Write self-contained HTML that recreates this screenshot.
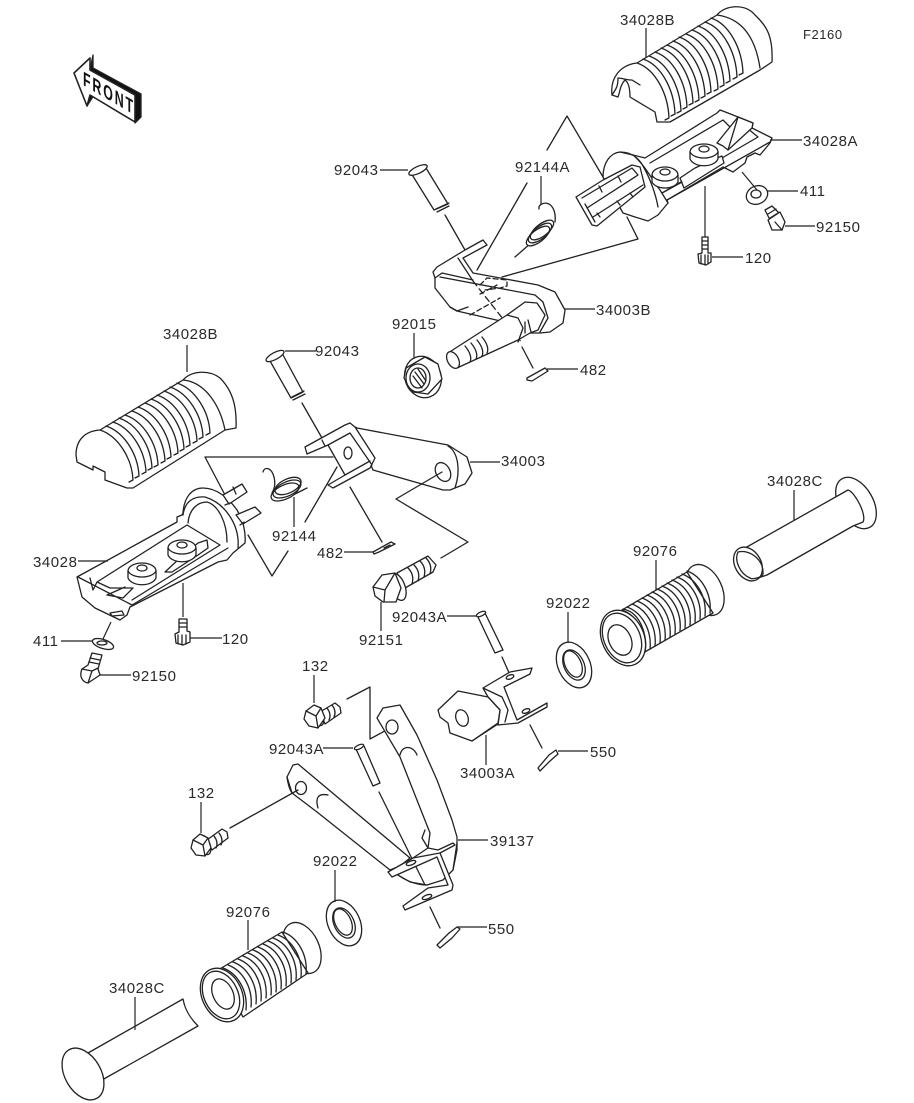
<!DOCTYPE html>
<html><head><meta charset="utf-8"><style>
html,body{margin:0;padding:0;background:#fff}
svg{display:block}
text{font-family:"Liberation Sans",sans-serif;font-size:15px;letter-spacing:.55px;fill:#2a2a2a;stroke:none}
.l{fill:none;stroke:#222;stroke-width:1.2}
.s *{stroke:#222;stroke-width:1.3;stroke-linejoin:round;stroke-linecap:round}
.w{fill:#fff}.n{fill:none}
</style></head><body>
<svg width="914" height="1103" viewBox="0 0 914 1103" xmlns="http://www.w3.org/2000/svg">
<defs>
<path id="r1" class="n" d="M0,0C18,6 31,30 32,55l-4,2"/>
<path id="r2" class="n" d="M0,0C18,6 32,28 33,50l-4,2"/>
<path id="r3" class="n" d="M0,0C14,5 25,22 23,42"/>
</defs>
<g class="s">
<!-- FRONT arrow -->
<path d="M93,55L93,68L141,94L141,117L135,123L135,95L90,70Z" style="fill:#111"/>
<path d="M87,106L94,95L90,94Z" style="fill:#111"/>
<path class="w" style="stroke-width:1.6" d="M74,73L90,58L90,70L135,95L135,122L90,95L87,106Z"/>

<!-- top grip 34028B -->
<path class="w" d="M612,95C610,78 620,65 637,63L717,15C725,5 745,3 755,15C768,27 773,38 772,62L760,70L670,122L657,122L655,112L630,97C630,88 628,82 625,80C620,85 620,92 618,97L612,95Z"/>
<path class="n" d="M618,78C622,78 626,80 632,80L640,85M612,95C615,90 618,88 618,78"/>
<use href="#r1" x="637" y="63"/><use href="#r1" x="643" y="59"/><use href="#r1" x="649" y="56"/><use href="#r1" x="655" y="52"/><use href="#r1" x="661" y="48"/><use href="#r1" x="667" y="45"/><use href="#r1" x="673" y="41"/><use href="#r1" x="679" y="37"/><use href="#r1" x="686" y="34"/><use href="#r1" x="692" y="30"/><use href="#r1" x="698" y="26"/><use href="#r1" x="705" y="22"/><use href="#r1" x="711" y="18"/>
<path class="n" d="M717,15C740,18 755,35 760,68"/>

<!-- right footrest 34028A -->
<path class="w" d="M603,177C603,163 610,153 620,152L633,155L645,158L717,113L720,110L728,113L738,117L753,123L752,128L772,138L770,143L760,155L755,153L747,157L745,163L733,172L723,167L667,200L668,203L658,215L648,221L635,217L623,213Z"/>
<path class="n" d="M620,152C630,152 638,157 643,166C650,178 656,195 658,207M633,155C645,165 652,180 660,190L668,203M650,163L723,120L730,127M667,200L770,142M662,193L758,137L747,128"/>
<path class="w" d="M717,143L738,117L753,123L752,128L728,150L723,146Z"/><path class="n" d="M728,150L738,117"/>
<path class="w" d="M680,178L695,168L712,160L722,156L724,163L684,188Z"/>
<path class="n" d="M662,193L682,182"/>
<ellipse class="w" cx="704" cy="152" rx="14" ry="8"/><path class="w" d="M690,152V159C694,168 714,168 718,159V152C714,160 694,160 690,152Z"/><ellipse class="n" cx="704" cy="149" rx="5" ry="3"/>
<ellipse class="w" cx="665" cy="175" rx="13" ry="8"/><path class="w" d="M652,175V182C656,190 674,190 678,182V175C674,183 656,183 652,175Z"/><ellipse class="n" cx="665" cy="172" rx="5" ry="3"/>
<path class="w" d="M576,197L603,180L632,165L640,167L645,187L597,226L592,225Z"/>
<path class="n" d="M582,198L632,168L638,175L587,208M585,204L595,222M593,217L643,185M599,186L602,192M618,176L621,182M597,213L600,217M617,201L620,205M630,193L633,197"/>

<!-- bracket lines top -->
<path class="n" d="M547,150L567,116L603,177M527,183L477,270M627,217L638,239L502,277"/>
<path class="n" d="M445,215L465,250"/>

<!-- spring 92144A -->
<path class="n" d="M539,209C538,204 545,202 549,204C554,207 556,214 555,222M515,257L531,243"/>
<ellipse class="w" cx="538" cy="236" rx="14" ry="6" transform="rotate(-38 538 236)"/>
<ellipse class="n" cx="540" cy="233" rx="14" ry="6" transform="rotate(-38 540 233)"/>
<ellipse class="n" cx="542" cy="230" rx="14" ry="6" transform="rotate(-38 542 230)"/>
<!-- small right parts -->
<ellipse class="w" cx="757" cy="195" rx="11" ry="9" transform="rotate(-25 757 195)"/><ellipse class="n" cx="756" cy="194" rx="5" ry="4"/>
<path class="w" d="M765,210L772,206L780,214L772,224Z"/>
<path class="w" d="M768,220L780,212L785,222L782,230L772,230Z"/><path class="n" d="M768,214L776,209M770,218L778,213M775,222L782,230"/>
<path class="w" d="M702,237H708V253H711V262L706,265L699,263L698,254L702,253Z"/><path class="n" d="M702,241H708M702,245H708M702,249H708M701,255V264M705,255V265M708,255V264"/>

<!-- pin 92043 upper -->
<path class="w" d="M411,173L434,210L448,204L426,168"/><ellipse class="w" cx="418" cy="170" rx="10" ry="3.5" transform="rotate(-25 418 170)"/>
<path class="n" d="M436,209L449,203M437,212L449,206"/>

<!-- 34003B -->
<path class="w" d="M433,272L437,267L465,250L483,240L487,245L463,258L473,273L538,285L555,292L565,310L563,323L550,332L540,333L530,333L505,322L457,311L450,307L435,288L435,278Z"/>
<path class="n" d="M435,278L442,273L473,280M440,277L535,295L543,302L548,318L540,332M458,258L473,281M450,307L457,311L468,307"/>
<path class="n" stroke-dasharray="6 4" d="M473,281L522,343"/>
<path class="n" stroke-dasharray="5 3" d="M480,285L487,278L507,280L507,286L500,288L485,290M480,294L497,285M470,315L500,298"/>
<path class="w" d="M448,353L507,315L525,302L537,303L545,315L538,330L530,333L518,340L457,368Z"/>
<path class="n" d="M507,315L518,318L523,328L518,342M525,322V333M528,320L531,332"/>
<ellipse class="w" cx="453" cy="360" rx="5.5" ry="9" transform="rotate(-28 453 360)"/>
<path class="n" d="M465,346C470,352 472,358 470,362M471,343C476,349 478,355 476,359M477,340C482,346 484,352 482,356M482,337C487,343 489,349 487,353"/>
<path class="n" d="M522,347L533,368"/>
<path class="w" d="M527,378L545,368L548,371L532,381L527,380Z"/>

<!-- nut 92015 -->
<ellipse class="w" cx="423" cy="377" rx="18" ry="21" transform="rotate(-20 423 377)"/>
<path class="w" d="M406,368L425,357L438,364L442,379L428,394L413,392L404,378Z"/>
<ellipse class="w" cx="418" cy="378" rx="12" ry="14"/><ellipse class="n" cx="418" cy="378" rx="8" ry="10"/>
<path class="n" d="M415,372L424,384M413,376L422,388M418,369L426,381"/>

<!-- left grip 34028B -->
<path class="w" d="M76,455C76,440 85,431 100,430L183,380C192,370 210,370 220,378C232,390 237,405 236,428L225,430L133,488L127,488L105,480V472L93,466V470L77,462Z"/>
<use href="#r2" x="100" y="430"/><use href="#r2" x="106" y="426"/><use href="#r2" x="113" y="422"/><use href="#r2" x="119" y="418"/><use href="#r2" x="125" y="415"/><use href="#r2" x="132" y="411"/><use href="#r2" x="138" y="407"/><use href="#r2" x="145" y="403"/><use href="#r2" x="151" y="399"/><use href="#r2" x="157" y="395"/><use href="#r2" x="164" y="391"/><use href="#r2" x="170" y="387"/><use href="#r2" x="177" y="383"/>
<path class="n" d="M183,380C205,382 220,405 225,430"/>

<!-- pin 92043 left -->
<path class="w" d="M270,361L291,398L303,392L283,355"/><ellipse class="w" cx="275" cy="356" rx="10" ry="3.5" transform="rotate(-28 275 356)"/>
<path class="n" d="M292,397L304,391M293,400L305,394"/>
<path class="n" d="M302,403L322,438"/>

<!-- 34003 lever -->
<path class="w" d="M357,428L448,445L467,457L472,473L465,484L450,490L443,490L373,470L355,427Z"/>
<path class="n" d="M448,446C458,452 461,470 455,488"/>
<ellipse class="w" cx="443" cy="472" rx="7" ry="10" transform="rotate(-28 443 472)"/>
<path class="w" d="M305,447L345,425L350,423L355,427L375,458L370,468L333,488L328,485L345,475L328,445L307,454Z"/>
<path class="n" d="M328,445L350,433L372,465M345,475L370,461M325,446L322,440"/>
<ellipse class="w" cx="348" cy="453" rx="4" ry="6"/>

<!-- bracket lines left -->
<path class="n" d="M333,457H205L225,495M305,522L337,467M248,535L272,576L288,551M350,487L382,542M442,472L396,499L468,542L441,558"/>

<!-- left footrest 34028 -->
<path class="w" d="M77,577L177,522L177,517L182,515L183,513C184,497 192,488 203,488C218,488 230,500 237,510C243,520 246,532 245,543L233,553L227,560L218,562L130,607L127,615L120,620L95,608L82,597Z"/>
<path class="n" d="M188,523C189,510 197,502 207,502C218,505 227,522 227,542M183,515C185,500 195,496 205,497C225,503 240,525 238,548M187,525L220,545M90,578L93,590L97,582L187,525M78,577L132,605L228,548M132,600L220,545M123,598L133,588L110,588L97,582M107,595L125,587M107,595L123,598"/>
<path class="w" d="M165,572L180,558L198,543L207,540L208,548L198,555L172,572Z"/>
<ellipse class="w" cx="182" cy="548" rx="14" ry="8"/><path class="w" d="M168,548V555C172,564 192,564 196,555V548C192,556 172,556 168,548Z"/><ellipse class="n" cx="182" cy="545" rx="5" ry="3"/>
<ellipse class="w" cx="142" cy="571" rx="14" ry="8"/><path class="w" d="M128,571V578C132,587 152,587 156,578V571C152,579 132,579 128,571Z"/><ellipse class="n" cx="142" cy="568" rx="5" ry="3"/>
<path class="n" d="M110,613L122,611L124,615L112,616Z"/>
<path class="w" d="M223,495L242,484L247,492L229,504Z"/>
<path class="w" d="M236,515L255,507L261,513L243,524Z"/>
<path class="n" d="M225,505L230,503M240,525L244,522M233,487L236,494"/>
<!-- spring 92144 -->
<path class="n" d="M263,472C264,467 270,467 273,474C276,482 275,488 272,493M283,500L307,488"/>
<ellipse class="w" cx="285" cy="492" rx="15" ry="7" transform="rotate(-25 285 492)"/>
<ellipse class="n" cx="287" cy="489" rx="15" ry="7" transform="rotate(-25 287 489)"/>
<ellipse class="n" cx="288" cy="486" rx="14" ry="7" transform="rotate(-25 288 486)"/>
<!-- small left parts -->
<path class="w" d="M373,552L391,542L395,544L379,552L374,554Z"/><path class="n" d="M384,548L390,545"/>
<ellipse class="w" cx="103" cy="644" rx="11" ry="4.5" transform="rotate(18 103 644)"/><ellipse class="n" cx="102" cy="643" rx="5" ry="2"/>
<path class="w" d="M92,653L102,655L98,669L100,675L88,683C82,682 79,676 82,669L88,665Z"/><path class="n" d="M90,658L100,660M89,662L99,664M82,669L92,671L98,668M92,671L88,683"/>
<path class="w" d="M179,619H187V631L190,632V642L183,645L176,643L175,634L179,632Z"/><path class="n" d="M179,623H187M179,627H187M178,635V644M182,635V645M186,635V644"/>

<!-- 92151 -->
<path class="w" d="M397,573L428,556L436,565L433,572L405,588Z"/>
<path class="n" d="M408,568C412,572 414,577 412,584M414,565C418,569 420,574 418,581M420,561C424,565 426,570 424,577M426,558C430,562 432,567 430,574"/>
<ellipse class="w" cx="398" cy="587" rx="7" ry="14" transform="rotate(-20 398 587)"/>
<path class="w" d="M373,587L382,575L395,573L401,588L396,602L383,602L375,596Z"/>
<path class="n" d="M373,587L385,590L395,573M385,590L384,602"/>

<!-- 34028C upper -->
<ellipse class="w" cx="856" cy="503" rx="17" ry="28" transform="rotate(-30 856 503)"/>
<path class="w" d="M738,552L848,490C855,492 867,515 863,522L853,526L767,575L752,580Z"/>
<ellipse class="w" cx="748" cy="564" rx="13" ry="18" transform="rotate(-30 748 564)"/>
<path class="n" d="M738,552C750,549 764,560 763,574C763,577 752,580 750,578C740,574 734,560 738,552Z"/>

<!-- 92076 upper -->
<ellipse class="w" cx="705" cy="590" rx="17" ry="27" transform="rotate(-25 705 590)"/>
<path class="w" d="M622,610L687,572L713,613L643,653Z"/>
<use href="#r3" x="622" y="610"/><use href="#r3" x="627" y="607"/><use href="#r3" x="632" y="604"/><use href="#r3" x="637" y="601"/><use href="#r3" x="642" y="598"/><use href="#r3" x="647" y="595"/><use href="#r3" x="652" y="592"/><use href="#r3" x="657" y="589"/><use href="#r3" x="662" y="586"/><use href="#r3" x="667" y="583"/><use href="#r3" x="672" y="580"/><use href="#r3" x="677" y="577"/><use href="#r3" x="682" y="574"/><use href="#r3" x="687" y="571"/>
<ellipse class="w" cx="623" cy="638" rx="21" ry="29" transform="rotate(-25 623 638)"/>
<ellipse class="n" cx="622" cy="638" rx="18" ry="26" transform="rotate(-25 622 638)"/>
<ellipse class="n" cx="620" cy="640" rx="11" ry="16" transform="rotate(-25 620 640)"/>
<path class="n" d="M623,609C640,612 648,635 645,652"/>

<!-- washer upper -->
<ellipse class="w" cx="574" cy="665" rx="16" ry="24" transform="rotate(-25 574 665)"/>
<ellipse class="n" cx="574" cy="665" rx="10" ry="16" transform="rotate(-25 574 665)"/>
<ellipse class="n" cx="573" cy="664" rx="8" ry="14" transform="rotate(-25 573 664)"/>

<!-- pin 92043A upper -->
<path class="w" d="M478,617L495,653L503,650L485,613"/><ellipse class="w" cx="481" cy="614" rx="5" ry="2" transform="rotate(-25 481 614)"/>
<path class="n" d="M502,657L510,675"/>

<!-- 34003A -->
<path class="w" d="M483,688L510,672L532,668L530,674L504,687L517,720L547,703L547,707L518,723L498,725L500,710L488,697Z"/>
<path class="n" d="M483,688L502,697L508,710L505,722"/>
<ellipse class="w" cx="510" cy="677" rx="4" ry="2" transform="rotate(-20 510 677)"/><ellipse class="w" cx="526" cy="711" rx="4" ry="2" transform="rotate(-20 526 711)"/>
<path class="w" d="M438,710L458,691L488,697L500,710L498,723L472,741L450,733L448,723L440,717Z"/>
<path class="n" stroke-width="2" d="M472,741L498,724"/>
<ellipse class="w" cx="462" cy="718" rx="6" ry="8.5" transform="rotate(-20 462 718)"/>
<path class="n" d="M530,725L542,748"/>
<path class="w" d="M538,768L549,755L556,750L558,754L550,761L540,771Z"/>

<!-- 132 upper -->
<path class="w" d="M320,712L335,703L340,707L341,713L325,724Z"/>
<path class="n" d="M327,708C330,712 331,716 329,720M332,705C335,709 336,713 334,717"/>
<ellipse class="w" cx="318" cy="716" rx="5" ry="10" transform="rotate(-20 318 716)"/>
<path class="w" d="M306,711L314,705L321,708L325,718L318,728L309,726L304,719Z"/>
<path class="n" d="M306,711L316,716L321,708M316,716L318,728"/>

<!-- bracket lines pedal -->
<path class="n" d="M347,699L370,687V739L392,727"/>

<!-- 39137 pedal -->
<path class="w" d="M377,718L383,708L400,705L417,735L437,780L452,820L457,837L457,850L453,870L443,880L427,885L410,882L398,875L413,858L428,848L430,833L413,790L400,757Z"/>
<path class="n" d="M400,755C402,745 413,745 417,755"/>
<path class="n" d="M398,875C408,882 418,885 427,885M457,843L453,870"/>
<ellipse class="w" cx="392" cy="727" rx="6" ry="7"/>
<path class="w" d="M287,777L293,765L298,764L410,858L400,866L390,870L317,812L292,793Z"/>
<path class="n" d="M318,808C315,798 318,793 328,795M287,777C288,785 290,790 292,793"/>
<ellipse class="w" cx="301" cy="788" rx="5.5" ry="6.5"/>
<path class="n" d="M425,830L422,838L428,848L438,850L453,843L455,845L440,853"/>
<!-- pin line -->
<path class="n" d="M379,792L425,885M430,907L440,928"/>
<path class="w" d="M388,872L413,858L440,853L453,885L452,890L405,910L403,906L428,888L448,885L437,857L392,877Z"/>
<ellipse class="w" cx="411" cy="863" rx="5" ry="2" transform="rotate(-20 411 863)"/><ellipse class="w" cx="427" cy="897" rx="5" ry="2" transform="rotate(-20 427 897)"/>
<!-- pin lower -->
<path class="w" d="M356,749L373,786L380,783L364,746"/><ellipse class="w" cx="359" cy="747" rx="5" ry="2" transform="rotate(-25 359 747)"/>
<path class="w" d="M437,945L449,933L457,927L460,929L452,938L440,948Z"/>

<!-- 132 lower -->
<path class="w" d="M207,840L222,829L227,832L228,838L212,850Z"/>
<path class="n" d="M214,836C217,840 218,844 216,848M219,833C222,837 223,841 221,845"/>
<ellipse class="w" cx="205" cy="845" rx="5" ry="10" transform="rotate(-20 205 845)"/>
<path class="w" d="M193,840L200,834L208,838L211,848L205,856L196,855L191,848Z"/>
<path class="n" d="M193,840L203,845L208,838M203,845L205,856"/>
<path class="n" d="M230,828L298,790"/>

<!-- washer lower -->
<ellipse class="w" cx="344" cy="923" rx="16" ry="24" transform="rotate(-25 344 923)"/>
<ellipse class="n" cx="344" cy="923" rx="10" ry="16" transform="rotate(-25 344 923)"/>
<ellipse class="n" cx="343" cy="922" rx="8" ry="14" transform="rotate(-25 343 922)"/>

<!-- 92076 lower -->
<ellipse class="w" cx="302" cy="948" rx="17" ry="27" transform="rotate(-25 302 948)"/>
<path class="w" d="M218,970L282,932L308,973L243,1017Z"/>
<use href="#r3" x="218" y="971"/><use href="#r3" x="223" y="968"/><use href="#r3" x="228" y="965"/><use href="#r3" x="233" y="962"/><use href="#r3" x="238" y="959"/><use href="#r3" x="243" y="956"/><use href="#r3" x="248" y="953"/><use href="#r3" x="253" y="950"/><use href="#r3" x="258" y="947"/><use href="#r3" x="263" y="944"/><use href="#r3" x="268" y="941"/><use href="#r3" x="273" y="938"/><use href="#r3" x="278" y="935"/><use href="#r3" x="283" y="932"/>
<ellipse class="w" cx="222" cy="995" rx="20" ry="28" transform="rotate(-25 222 995)"/>
<ellipse class="n" cx="221" cy="995" rx="17" ry="25" transform="rotate(-25 221 995)"/>
<ellipse class="n" cx="223" cy="994" rx="10" ry="16" transform="rotate(-25 223 994)"/>

<!-- 34028C lower -->
<path class="w" d="M88,1053L183,999C185,1010 190,1018 198,1026L102,1080Z"/>
<ellipse class="w" cx="83" cy="1074" rx="18" ry="28" transform="rotate(-30 83 1074)"/>
</g>

<!-- leaders -->
<g class="l">
<path d="M646,28V58M770,140H802M767,191H798M785,226H815M712,257H743M705,186V237M742,172L757,190M541,176V205M380,170H408M565,309H595M547,369H578M414,333V358"/>
<path d="M316,351H285M470,462H500M344,552H373M294,497V527M78,561H108M183,583V617M190,638H222M61,641H92M111,622L103,639M100,675H131M381,602V631M447,616H477M314,675V703M187,345V372"/>
<path d="M323,748H353M458,840H488M457,927H487M201,802V833M335,870V902M248,920V950M486,735V765M558,751H588M568,612V643M656,560V590M794,490V520M135,997V1030"/>
</g>

<!-- labels -->
<text x="803" y="39" style="font-size:13px">F2160</text>
<text x="620" y="25">34028B</text>
<text x="803" y="146">34028A</text>
<text x="800" y="196">411</text>
<text x="816" y="232">92150</text>
<text x="745" y="263">120</text>
<text x="334" y="175">92043</text>
<text x="515" y="172">92144A</text>
<text x="392" y="329">92015</text>
<text x="596" y="315">34003B</text>
<text x="580" y="375">482</text>
<text x="315" y="356">92043</text>
<text x="163" y="339">34028B</text>
<text x="501" y="466">34003</text>
<text x="767" y="486">34028C</text>
<text x="633" y="556">92076</text>
<text x="33" y="567">34028</text>
<text x="272" y="541">92144</text>
<text x="317" y="558">482</text>
<text x="33" y="646">411</text>
<text x="222" y="644">120</text>
<text x="359" y="645">92151</text>
<text x="392" y="622">92043A</text>
<text x="546" y="608">92022</text>
<text x="132" y="681">92150</text>
<text x="302" y="671">132</text>
<text x="269" y="754">92043A</text>
<text x="460" y="778">34003A</text>
<text x="590" y="757">550</text>
<text x="188" y="798">132</text>
<text x="490" y="846">39137</text>
<text x="313" y="866">92022</text>
<text x="226" y="917">92076</text>
<text x="488" y="934">550</text>
<text x="109" y="993">34028C</text>
<text transform="matrix(.62,.36,0,1,83,85)" style="font-size:20px;font-weight:bold;letter-spacing:3px;fill:#111">FRONT</text>
</svg>
</body></html>
